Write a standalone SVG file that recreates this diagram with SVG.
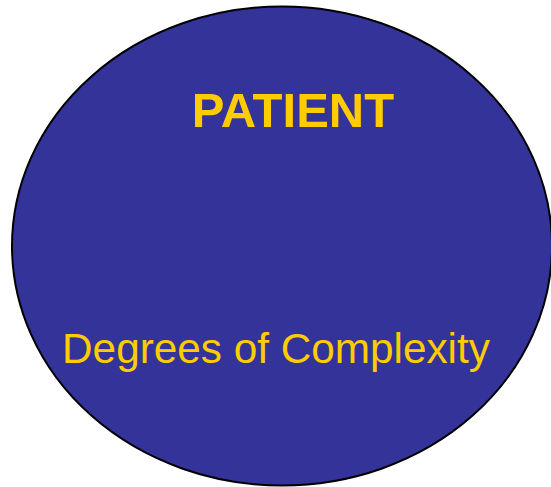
<svg xmlns="http://www.w3.org/2000/svg" width="551" height="487" viewBox="0 0 551 487">
<style>
.t{font-family:"Liberation Sans",Arial,sans-serif;fill:#FFCC00;text-anchor:middle}
</style>
<rect width="551" height="487" fill="#FFFFFF"/>
<g id="patient">
<ellipse cx="282" cy="246" rx="270" ry="239.5" fill="#333399" stroke="#000000" stroke-width="2"/>
<text class="t" x="293" y="127" font-size="49" font-weight="bold">PATIENT</text>
<text class="t" x="276" y="363" font-size="42.3">Degrees of Complexity</text>
</g>
</svg>
